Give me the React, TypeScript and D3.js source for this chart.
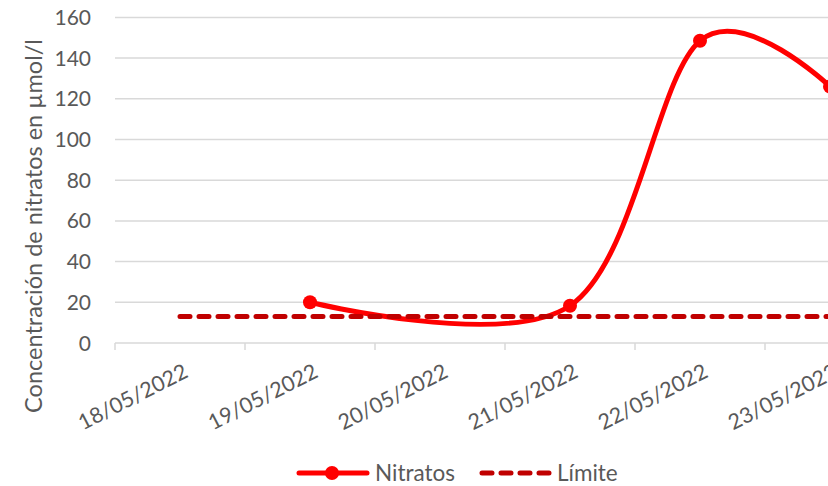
import React from "react";
import * as d3 from "d3";

const categories = ["18/05/2022", "19/05/2022", "20/05/2022", "21/05/2022", "22/05/2022", "23/05/2022"];
const nitratos: (number | null)[] = [null, 20, null, 18.3, 148.5, 126];
const limite: number[] = [13, 13, 13, 13, 13, 13];
const yTicks = [0, 20, 40, 60, 80, 100, 120, 140, 160];

const W = 828;
const H = 486;
const FONT = "Lato, 'Open Sans', sans-serif";
const TXT = "#595959";

export default function App() {
  const x = d3.scaleBand<string>().domain(categories).range([115, 895]).padding(0);
  const y = d3.scaleLinear().domain([0, 160]).range([343, 17.4]);
  const cx = (c: string) => (x(c) as number) + x.bandwidth() / 2;

  const nPts = categories
    .map((c, i) => ({ c, v: nitratos[i] }))
    .filter((d) => d.v !== null) as { c: string; v: number }[];
  const lPts = categories.map((c, i) => ({ c, v: limite[i] }));

  const smooth = d3
    .line<{ c: string; v: number }>()
    .x((d) => cx(d.c))
    .y((d) => y(d.v))
    .curve(d3.curveCardinal.tension(0));
  const straight = d3
    .line<{ c: string; v: number }>()
    .x((d) => cx(d.c))
    .y((d) => y(d.v));

  const tickXs = categories.map((c) => x(c) as number).concat([895]);

  return (
    <div style={{ position: "fixed", left: 0, top: 0 }}>
      <svg width={W} height={H} style={{ display: "block", background: "#fff" }}>
        {yTicks.map((t) => (
          <g key={t}>
            <line x1={115} x2={895} y1={y(t)} y2={y(t)} stroke="#D9D9D9" strokeWidth={1.5} />
            <text x={91} y={y(t)} dy="0.36em" textAnchor="end" fontFamily={FONT} fontSize={21} fill={TXT}>
              {t}
            </text>
          </g>
        ))}
        {tickXs.map((tx, i) => (
          <line key={i} x1={tx} x2={tx} y1={343} y2={350} stroke="#D9D9D9" strokeWidth={1.5} />
        ))}
        {categories.map((c) => (
          <text
            key={c}
            transform={`translate(${cx(c) + 2},${362}) rotate(-27)`}
            textAnchor="end"
            dy="0.75em"
            fontFamily={FONT}
            fontSize={21.5}
            fill={TXT}
          >
            {c}
          </text>
        ))}
        <text
          transform={`translate(42,${226}) rotate(-90)`}
          textAnchor="middle"
          fontFamily={FONT}
          fontSize={23.5}
          fill={TXT}
        >
          Concentración de nitratos en µmol/l
        </text>

        <path d={smooth(nPts) || ""} fill="none" stroke="#FF0000" strokeWidth={5} strokeLinecap="round" />
        {nPts.map((d) => (
          <circle key={d.c} cx={cx(d.c)} cy={y(d.v)} r={7} fill="#FF0000" />
        ))}
        <path
          d={straight(lPts) || ""}
          fill="none"
          stroke="#C00000"
          strokeWidth={5}
          strokeDasharray="10 9"
          strokeLinecap="round"
        />

        <line x1={299} x2={367} y1={473} y2={473} stroke="#FF0000" strokeWidth={5} strokeLinecap="round" />
        <circle cx={332} cy={473} r={7} fill="#FF0000" />
        <text x={375} y={473} dy="0.36em" fontFamily={FONT} fontSize={22.5} fill={TXT}>
          Nitratos
        </text>
        <line
          x1={482}
          x2={550}
          y1={473}
          y2={473}
          stroke="#C00000"
          strokeWidth={5}
          strokeDasharray="10 9"
          strokeLinecap="round"
        />
        <text x={557} y={473} dy="0.36em" fontFamily={FONT} fontSize={22.5} fill={TXT}>
          Límite
        </text>
      </svg>
    </div>
  );
}
